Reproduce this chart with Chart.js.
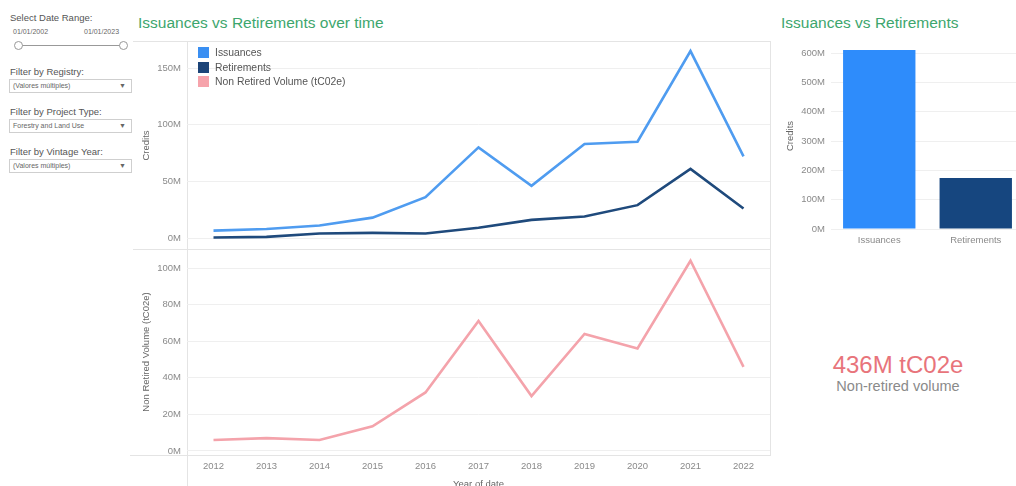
<!DOCTYPE html>
<html lang="en">
  <head>
    <meta charset="UTF-8" />
    <title>Issuances vs Retirements</title>
    <script src="https://cdn.jsdelivr.net/npm/chart.js"></script>
    <style>
      html, body { margin: 0; padding: 0; background: #fff; }
      body { width: 1016px; height: 486px; overflow: hidden; position: relative;
             font-family: "Liberation Sans", Arial, sans-serif; color: #555; }
      .abs { position: absolute; }
      .title { color: #3da66d; font-size: 15.5px; white-space: nowrap; }
      .hline { position: absolute; height: 1px; background: #e4e4e4; }
      .vline { position: absolute; width: 1px; background: #e4e4e4; }
      .filter-label { position: absolute; left: 10px; font-size: 9.5px; color: #555; }
      .dropdown { position: absolute; left: 9px; width: 118px; height: 12px; border: 1px solid #cfcfcf;
                  font-size: 7px; color: #666; line-height: 12px; padding-left: 3px; box-sizing: content-box; }
      .dropdown span { position: absolute; right: 5px; top: 0; font-size: 7px; }
      .legend { position: absolute; left: 198px; top: 47px; font-size: 10.4px; color: #555; }
      .legend div { height: 14.5px; line-height: 12px; white-space: nowrap; }
      .legend i { display: inline-block; width: 11px; height: 11px; vertical-align: top; margin-right: 6px; }
      .box { position: absolute; }
    </style>
  </head>
  <body>
    <!-- left filters panel -->
    <div class="filter-label" style="top: 12px">Select Date Range:</div>
    <div class="abs" style="left: 13px; top: 28px; font-size: 7px; color: #666">01/01/2002</div>
    <div class="abs" style="left: 84px; top: 28px; font-size: 7px; color: #666">01/01/2023</div>
    <div class="abs" style="left: 18px; top: 45px; width: 105px; height: 1px; background: #999"></div>
    <div class="abs" style="left: 14px; top: 41px; width: 7px; height: 7px; border: 1px solid #999; border-radius: 50%; background: #fff"></div>
    <div class="abs" style="left: 119px; top: 41px; width: 7px; height: 7px; border: 1px solid #999; border-radius: 50%; background: #fff"></div>

    <div class="filter-label" style="top: 66px">Filter by Registry:</div>
    <div class="dropdown" style="top: 79px">(Valores múltiples)<span>▼</span></div>
    <div class="filter-label" style="top: 106px">Filter by Project Type:</div>
    <div class="dropdown" style="top: 119px">Forestry and Land Use<span>▼</span></div>
    <div class="filter-label" style="top: 146px">Filter by Vintage Year:</div>
    <div class="dropdown" style="top: 159px">(Valores múltiples)<span>▼</span></div>

    <!-- titles -->
    <div class="abs title" style="left: 138px; top: 14px">Issuances vs Retirements over time</div>
    <div class="abs title" style="left: 781px; top: 14px">Issuances vs Retirements</div>

    <!-- frame lines -->
    <div class="hline" style="left: 133px; top: 41px; width: 638px"></div>
    <div class="hline" style="left: 133px; top: 249px; width: 638px"></div>
    <div class="hline" style="left: 130px; top: 455px; width: 641px"></div>
    <div class="vline" style="left: 187px; top: 41px; height: 445px"></div>
    <div class="vline" style="left: 770px; top: 41px; height: 415px"></div>

    <div class="box" style="left: 128px; top: 42px; width: 642px; height: 207px"><canvas id="trendChart"></canvas></div>
    <div class="box" style="left: 128px; top: 249px; width: 642px; height: 246px"><canvas id="volumeChart"></canvas></div>
    <div class="box" style="left: 772px; top: 40px; width: 252px; height: 214px"><canvas id="totalsChart"></canvas></div>

    <div class="legend" id="legend"></div>

    <div class="abs" style="left: 780px; width: 236px; top: 351px; text-align: center; font-size: 24px; color: #e8747b">436M tC02e</div>
    <div class="abs" style="left: 780px; width: 236px; top: 378px; text-align: center; font-size: 14.5px; color: #8a8a8a">Non-retired volume</div>

    <script>
      // values in millions of tC02e
      const years = ["2012", "2013", "2014", "2015", "2016", "2017", "2018", "2019", "2020", "2021", "2022"];
      const issuances = [6.5, 8, 11, 18, 36, 80, 46, 83, 85, 165, 72];
      const retirements = [0.5, 1, 4, 4.5, 4, 9, 16, 19, 29, 61, 26];
      const nonRetired = [6, 7, 6, 13.5, 32, 71, 30, 64, 56, 104, 46];

      const totalLabels = ["Issuances", "Retirements"];
      const totals = [610, 174];

      const trendTicks = [0, 50, 100, 150];
      const volumeTicks = [0, 20, 40, 60, 80, 100];
      const totalTicks = [0, 100, 200, 300, 400, 500, 600];

      const seriesNames = ["Issuances", "Retirements", "Non Retired Volume (tC02e)"];
      const lineColors = ["#4f9cf0", "#1f4a7c", "#f4a3ab"];
      const swatchColors = ["#3a8ff2", "#1c4478", "#f6a3ab"];
      const barColors = ["#2e8cfb", "#16467f"];

      const tickFont = { family: "'Liberation Sans', Arial, sans-serif", size: 9.5 };
      const tickColor = "#8a8a8a";
      const gridColor = "#efefef";

      // html legend
      const legend = document.getElementById("legend");
      seriesNames.forEach((name, i) => {
        const row = document.createElement("div");
        row.innerHTML = `<i style="background:${swatchColors[i]}"></i>${name}`;
        legend.appendChild(row);
      });

      function yAxis(min, max, ticks, title) {
        return {
          min: min,
          max: max,
          afterBuildTicks: (s) => { s.ticks = ticks.map((v) => ({ value: v })); },
          afterFit: (s) => { s.width = 59; s.paddingTop = 0; s.paddingBottom = 0; },
          grid: { color: gridColor, drawTicks: false },
          border: { display: false },
          ticks: { font: tickFont, color: tickColor, padding: 6, callback: (v) => v + "M" },
          title: { display: true, text: title, font: tickFont, color: "#666", padding: { top: 13, bottom: 0 } },
        };
      }

      const baseOptions = {
        responsive: true,
        maintainAspectRatio: false,
        animation: false,
        layout: { padding: 0, autoPadding: false },
        plugins: { legend: { display: false }, tooltip: { enabled: false } },
        elements: { point: { radius: 0 }, line: { tension: 0, borderWidth: 2.6 } },
      };

      new Chart(document.getElementById("trendChart"), {
        type: "line",
        data: {
          labels: years,
          datasets: [
            { label: seriesNames[0], data: issuances, borderColor: lineColors[0] },
            { label: seriesNames[1], data: retirements, borderColor: lineColors[1] },
          ],
        },
        options: {
          ...baseOptions,
          scales: {
            x: { display: false, offset: true },
            y: yAxis(-9.7, 173, trendTicks, "Credits"),
          },
        },
      });

      new Chart(document.getElementById("volumeChart"), {
        type: "line",
        data: {
          labels: years,
          datasets: [{ label: seriesNames[2], data: nonRetired, borderColor: lineColors[2] }],
        },
        options: {
          ...baseOptions,
          scales: {
            x: {
              offset: true,
              afterFit: (s) => { s.height = 40; s.paddingLeft = 0; s.paddingRight = 0; },
              grid: { display: false, drawTicks: false },
              border: { display: false },
              ticks: { font: tickFont, color: tickColor, padding: 6, maxRotation: 0 },
              title: { display: true, text: "Year of date", font: tickFont, color: "#666", padding: { top: 0, bottom: 5 } },
            },
            y: yAxis(-2.2, 110.4, volumeTicks, "Non Retired Volume (tC02e)"),
          },
        },
      });

      new Chart(document.getElementById("totalsChart"), {
        type: "bar",
        data: {
          labels: totalLabels,
          datasets: [{ data: totals, backgroundColor: barColors, barPercentage: 0.75, categoryPercentage: 1 }],
        },
        options: {
          ...baseOptions,
          scales: {
            x: {
              afterFit: (s) => { s.height = 22; s.paddingLeft = 0; s.paddingRight = 0; },
              grid: { display: false, drawTicks: false },
              border: { display: false },
              ticks: { font: tickFont, color: tickColor, padding: 3, maxRotation: 0 },
            },
            y: yAxis(-10.2, 644.4, totalTicks, "Credits"),
          },
        },
      });
    </script>
  </body>
</html>
